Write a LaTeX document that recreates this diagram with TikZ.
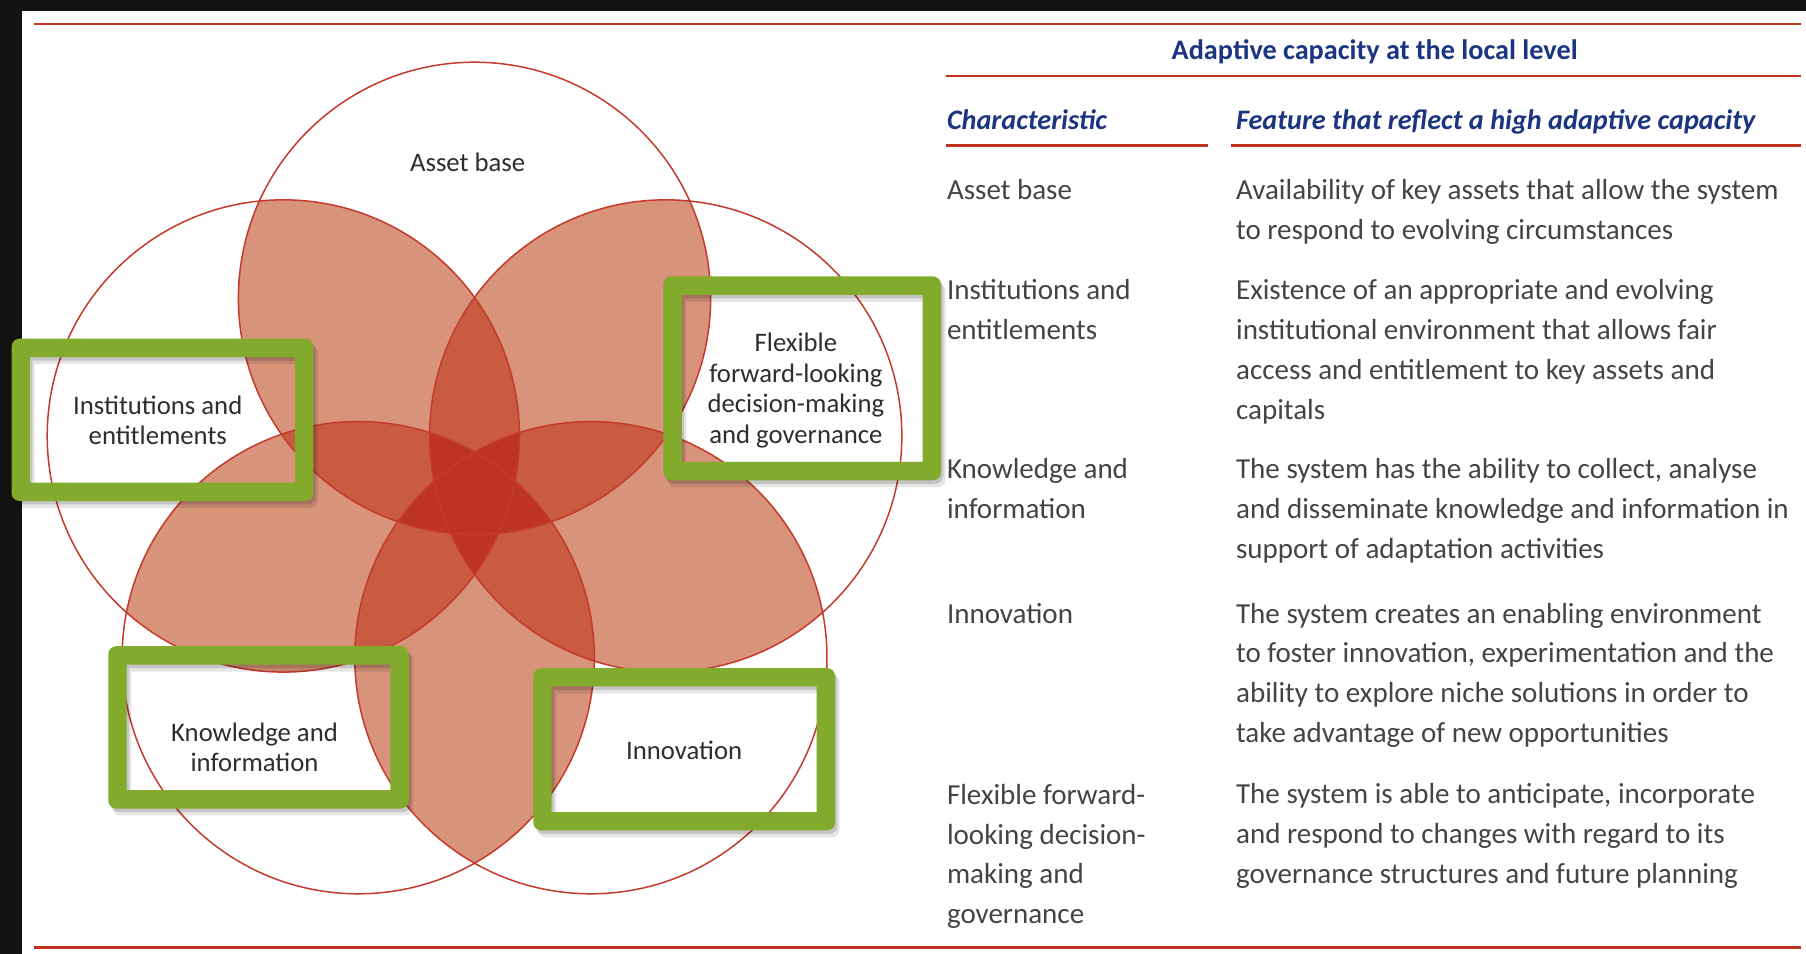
\documentclass[tikz,border=0pt]{standalone}
\usepackage{fontspec}
\setmainfont{Carlito}
\definecolor{bgdark}{HTML}{121212}
\definecolor{rulered}{HTML}{C0311F}
\definecolor{circred}{HTML}{C63A2C}
\definecolor{salmon}{HTML}{D8937B}
\definecolor{medred}{HTML}{C85B40}
\definecolor{darkred}{HTML}{BE3424}
\definecolor{framegreen}{HTML}{82AA2C}
\definecolor{navy}{HTML}{1C3580}
\definecolor{tabletext}{HTML}{444444}
\definecolor{diagtext}{HTML}{2E2E2E}
\tikzset{
  redrule/.style={draw=rulered, line width=2.3pt},
  circline/.style={draw=circred, line width=1.3pt},
  tabtxt/.style={anchor=base west, inner sep=0pt, align=left, text=tabletext,
    font=\fontsize{25.2}{34.6}\selectfont},
  headtxt/.style={inner sep=0pt, text=navy, font=\fontsize{24.5}{30}\selectfont\bfseries},
  diaglabel/.style={anchor=base, inner sep=0pt, align=center, text=diagtext,
    font=\fontsize{23.2}{26.5}\selectfont},
}
\newcommand{\greenframe}[4]{%
  \fill[black, opacity=0.14, even odd rule, rounded corners=7]
    (#1+2,#2-3) rectangle (#3+2,#4-3) [sharp corners] (#1+18,#2-19) rectangle (#3-14,#4+13);
  \fill[black, opacity=0.10, even odd rule, rounded corners=7]
    (#1+4,#2-6) rectangle (#3+4,#4-6) [sharp corners] (#1+20,#2-22) rectangle (#3-12,#4+10);
  \fill[framegreen, even odd rule, rounded corners=7]
    (#1,#2) rectangle (#3,#4) [sharp corners] (#1+16,#2-16) rectangle (#3-16,#4+16);
}
\begin{document}
\begin{tikzpicture}[x=1pt,y=1pt]
\useasboundingbox (0,0) rectangle (1568,-828);
\fill[white] (0,0) rectangle (1568,-828);
\fill[bgdark] (0,0) rectangle (1568,-9.5);
\fill[bgdark] (0,0) rectangle (19,-828);

% circle centres
\coordinate (c1) at (412,-259);
\coordinate (c2) at (246,-378.5);
\coordinate (c3) at (578,-378.5);
\coordinate (c4) at (311,-571);
\coordinate (c5) at (513,-571);
\def\R{205}

% two-circle overlaps
\foreach \i/\j in {1/2,1/3,1/4,1/5,2/3,2/4,2/5,3/4,3/5,4/5}{
  \begin{scope}
    \clip (c\i) circle (\R);
    \fill[salmon] (c\j) circle (\R);
  \end{scope}
}
% three-circle overlaps
\foreach \i/\j/\k in {1/2/3,1/2/4,1/2/5,1/3/4,1/3/5,1/4/5,2/3/4,2/3/5,2/4/5,3/4/5}{
  \begin{scope}
    \clip (c\i) circle (\R);
    \clip (c\j) circle (\R);
    \fill[medred] (c\k) circle (\R);
  \end{scope}
}
% four or more
\foreach \i/\j/\k/\l in {1/2/3/4,1/2/3/5,1/2/4/5,1/3/4/5,2/3/4/5}{
  \begin{scope}
    \clip (c\i) circle (\R);
    \clip (c\j) circle (\R);
    \clip (c\k) circle (\R);
    \fill[darkred] (c\l) circle (\R);
  \end{scope}
}
\foreach \i in {1,...,5}{ \draw[circline] (c\i) circle (\R); }

% green frames
\greenframe{10}{-294}{272}{-435}
\greenframe{576}{-240}{817}{-417}
\greenframe{94}{-561}{355}{-702}
\greenframe{463}{-580}{725}{-721}

% diagram labels (anchored at the baseline of the last line)
\node[diaglabel] (lasset) at (406,-149) {Asset base};
\node[diaglabel] (linst) at (137,-386.3) {Institutions and\\entitlements};
\node[diaglabel] (lflex) at (691,-384.8) {Flexible\\forward-looking\\decision-making\\and governance};
\node[diaglabel] (lknow) at (221,-669.9) {Knowledge and\\information};
\node[diaglabel] (linno) at (594,-659.7) {Innovation};

% rules
\draw[redrule] (29.5,-20.8) -- (1564,-20.8);
\draw[redrule] (29.5,-822.8) -- (1564,-822.8);
\draw[redrule] (821,-66) -- (1564,-66);
\draw[redrule, line width=2.6pt] (821,-126.7) -- (1048.5,-126.7);
\draw[redrule, line width=2.6pt] (1069,-126.7) -- (1564,-126.7);

% table header
\node[headtxt, anchor=base] (title) at (1193.5,-52) {Adaptive capacity at the local level};
\node[headtxt, anchor=base west, font=\fontsize{24.5}{30}\selectfont\bfseries\itshape] (hchar) at (822,-112) {Characteristic};
\node[headtxt, anchor=base west, font=\fontsize{24.5}{30}\selectfont\bfseries\itshape] (hfeat) at (1073,-112) {Feature that reflect a high adaptive capacity};

% table rows (anchored at the baseline of the last line)
\node[tabtxt] (r1a) at (822,-173) {Asset base};
\node[tabtxt] (r1b) at (1073,-207.6) {Availability of key assets that allow the system\\to respond to evolving circumstances};
\node[tabtxt] (r2a) at (822,-295) {Institutions and\\entitlements};
\node[tabtxt] (r2b) at (1073,-364.2) {Existence of an appropriate and evolving\\institutional environment that allows fair\\access and entitlement to key assets and\\capitals};
\node[tabtxt] (r3a) at (822,-450.3) {Knowledge and\\information};
\node[tabtxt] (r3b) at (1073,-484.9) {The system has the ability to collect, analyse\\and disseminate knowledge and information in\\support of adaptation activities};
\node[tabtxt] (r4a) at (822,-541) {Innovation};
\node[tabtxt] (r4b) at (1073,-644.8) {The system creates an enabling environment\\to foster innovation, experimentation and the\\ability to explore niche solutions in order to\\take advantage of new opportunities};
\node[tabtxt] (r5a) at (822,-802) {Flexible forward-\\looking decision-\\making and\\governance};
\node[tabtxt] (r5b) at (1073,-767.2) {The system is able to anticipate, incorporate\\and respond to changes with regard to its\\governance structures and future planning};
\end{tikzpicture}
\end{document}
